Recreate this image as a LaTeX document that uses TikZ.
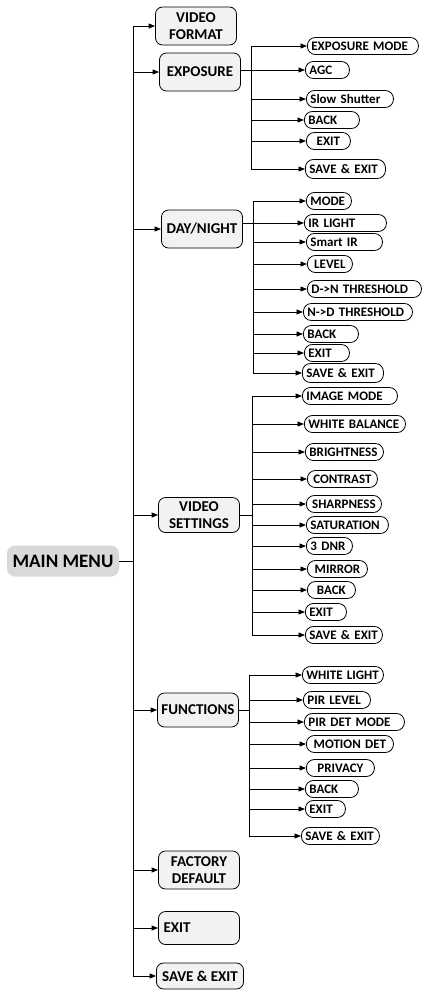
\documentclass[tikz,border=0pt]{standalone}
\usepackage{fontspec}
\setmainfont{Carlito}
\usetikzlibrary{arrows.meta}
\tikzset{
  >={Triangle[length=6.5pt,width=5pt]},
  menu/.style={draw, fill=black!5, rounded corners=7pt, minimum width=81pt,
    minimum height=38pt, inner sep=2pt, align=center,
    font=\bfseries\fontsize{15}{17}\selectfont},
  leaf/.style={draw, fill=white, rounded corners=8pt, minimum height=17pt,
    inner xsep=4pt, inner ysep=0pt, text width=#1, align=left, anchor=west,
    font=\bfseries\fontsize{13}{14}\selectfont}
}

\begin{document}
\begin{tikzpicture}[x=1pt, y=-1pt, line width=0.8pt]
\useasboundingbox (0,0) rectangle (423,991);

\node[fill=black!15, rounded corners=8pt, minimum width=112pt, minimum height=31pt,
  font=\bfseries\fontsize{19}{21}\selectfont] (main) at (63,561) {MAIN MENU};

\node[menu] (vf) at (196,26) {VIDEO\\FORMAT};
\node[menu] (exp) at (200,72) {EXPOSURE};
\node[menu] (dn) at (202,229) {DAY/NIGHT};
\node[menu, minimum height=35pt] (vs) at (199,515) {VIDEO\\SETTINGS};
\node[menu, minimum height=34pt] (fn) at (198,710) {FUNCTIONS};
\node[menu] (fd) at (199,870) {FACTORY\\DEFAULT};
\node[menu, minimum height=33pt, text width=71pt, align=left] (ex) at (199,928) {EXIT};
\node[menu, minimum width=87pt, minimum height=26pt] (sv) at (200,976) {SAVE \& EXIT};

\coordinate (tr) at (133,0);
\coordinate (eb) at (251,0);
\coordinate (db) at (253,0);
\coordinate (vb) at (252,0);
\coordinate (fb) at (249,0);

\draw (main) -- (main -| tr);
\draw (tr |- vf) -- (tr |- sv);
\foreach \n in {vf,exp,dn,vs,fn,fd,ex,sv}
  \draw[->] (tr |- \n) -- (\n);

% exposure
\node[leaf=103pt] (em) at (307,46) {EXPOSURE MODE};
\node[leaf=36pt] (agc) at (305,70) {AGC};
\node[leaf=79pt] (ss) at (306,99) {Slow Shutter};
\node[leaf=47pt] (eback) at (304,120) {BACK};
\node[leaf=36pt, align=center] (eexit) at (306,141) {EXIT};
\node[leaf=72pt, minimum height=19pt] (esave) at (305,169) {SAVE \& EXIT};

\draw (exp.east |- agc) -- (eb |- agc);
\draw (eb |- em) -- (eb |- esave);
\foreach \n in {em,agc,ss,eback,eexit,esave}
  \draw[->] (eb |- \n) -- (\n);

% day/night
\node[leaf=37pt] (dmode) at (306,201) {MODE};
\node[leaf=74pt] (dir) at (304,223) {IR LIGHT};
\node[leaf=68pt] (dsir) at (306,242) {Smart IR};
\node[leaf=37pt, align=center] (dlev) at (307,264) {LEVEL};
\node[leaf=106pt] (ddn) at (307,289) {D->N THRESHOLD};
\node[leaf=101pt] (dnd) at (303,312) {N->D THRESHOLD};
\node[leaf=47pt] (dback) at (303,334) {BACK};
\node[leaf=37pt] (dexit) at (304,353) {EXIT};
\node[leaf=73pt, minimum height=19pt] (dsave) at (302,373) {SAVE \& EXIT};

\draw (dn.east |- dir) -- (db |- dir);
\draw (db |- dmode) -- (db |- dsave);
\foreach \n in {dmode,dir,dsir,dlev,ddn,dnd,dback,dexit,dsave}
  \draw[->] (db |- \n) -- (\n);

% video settings
\node[leaf=87pt] (vim) at (302,396) {IMAGE MODE};
\node[leaf=93pt] (vwb) at (304,424) {WHITE BALANCE};
\node[leaf=70pt] (vbr) at (305,452) {BRIGHTNESS};
\node[leaf=62pt, align=center] (vco) at (307,479) {CONTRAST};
\node[leaf=67pt, align=center] (vsh) at (306,504) {SHARPNESS};
\node[leaf=74pt] (vsa) at (306,525) {SATURATION};
\node[leaf=38pt] (vdnr) at (306,546) {3~DNR};
\node[leaf=52pt, align=center] (vmi) at (307,569) {MIRROR};
\node[leaf=40pt, align=center] (vba) at (307,590) {BACK};
\node[leaf=33pt] (vex) at (305,612) {EXIT};
\node[leaf=69pt] (vsv) at (305,635) {SAVE \& EXIT};

\draw (vs) -- (vs -| vb);
\draw (vb |- vim) -- (vb |- vsv);
\foreach \n in {vim,vwb,vbr,vco,vsh,vsa,vdnr,vmi,vba,vex,vsv}
  \draw[->] (vb |- \n) -- (\n);

% functions
\node[leaf=73pt] (fwl) at (302,675) {WHITE LIGHT};
\node[leaf=59pt] (fpl) at (303,700) {PIR LEVEL};
\node[leaf=92pt] (fpd) at (304,722) {PIR DET MODE};
\node[leaf=79pt, align=center] (fmd) at (306,744) {MOTION DET};
\node[leaf=60pt, align=center] (fpr) at (306,768) {PRIVACY};
\node[leaf=45pt] (fba) at (305,789) {BACK};
\node[leaf=32pt] (fex) at (305,809) {EXIT};
\node[leaf=70pt] (fsv) at (301,836) {SAVE \& EXIT};

\draw (fn) -- (fn -| fb);
\draw (fb |- fwl) -- (fb |- fsv);
\foreach \n in {fwl,fpl,fpd,fmd,fpr,fba,fex,fsv}
  \draw[->] (fb |- \n) -- (\n);
\end{tikzpicture}
\end{document}
